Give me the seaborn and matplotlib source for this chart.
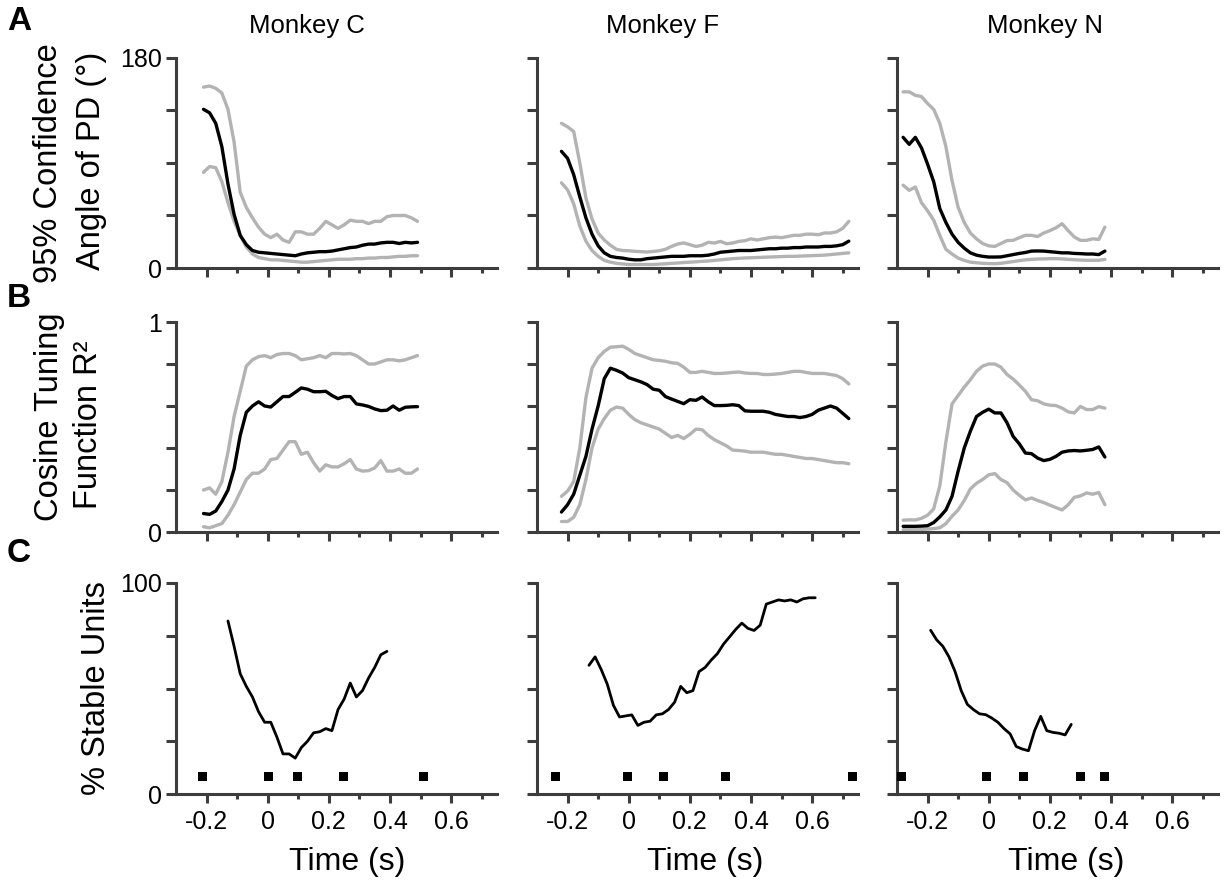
import numpy as np
import pandas as pd
import matplotlib
matplotlib.use("Agg")
import matplotlib.pyplot as plt
import seaborn as sns
from matplotlib.ticker import FixedLocator, FixedFormatter, NullFormatter

sns.set_style("ticks")
plt.rcParams['font.family'] = ['Liberation Sans', 'DejaVu Sans']
plt.rcParams['axes.unicode_minus'] = False
plt.rcParams['text.color'] = 'black'
plt.rcParams['xtick.labelcolor'] = 'black'
plt.rcParams['ytick.labelcolor'] = 'black'

# ---------------- data ----------------
monkeys = ["Monkey C", "Monkey F", "Monkey N"]

# Monkey C
t_tune_C = np.linspace(-0.21, 0.49, 36)
pd_mean_C = [136, 133, 124, 104, 72, 46, 28, 20, 15, 13.5, 13, 12.5, 12, 11.5, 11, 10.5,
             12, 13, 13.5, 14, 14, 14.5, 15.5, 16.5, 17.5, 18, 19.5, 20.5, 20.5, 21.5,
             22, 22, 21, 22, 21.5, 22]
pd_hi_C = [155, 156, 154, 150, 136, 108, 65, 52, 43, 35, 29, 26, 29, 24, 22, 31, 31, 29,
           29, 34, 40, 37, 34, 37, 41, 40, 40, 38, 40, 40, 44, 45, 45, 45, 43, 40]
pd_lo_C = [82, 87, 86, 74, 56, 40, 28, 18, 12, 9, 8, 7, 7, 6.5, 6, 5.5, 5, 5, 5.5, 6, 6.5,
           7, 7.5, 7.5, 7.5, 8, 8, 8.5, 8.5, 9, 9, 9.5, 10, 10, 10.5, 10.5]
r2_mean_C = [.088, .084, .10, .145, .20, .30, .46, .57, .60, .62, .60, .595, .62, .645,
             .645, .665, .686, .68, .668, .668, .67, .65, .635, .645, .645, .61, .605,
             .598, .586, .578, .58, .60, .58, .594, .596, .597]
r2_hi_C = [.20, .21, .18, .24, .38, .55, .67, .79, .82, .835, .84, .83, .845, .85, .85,
           .84, .82, .825, .83, .84, .83, .85, .85, .848, .85, .84, .82, .80, .80, .81,
           .82, .82, .815, .82, .83, .84]
r2_lo_C = [.025, .02, .03, .04, .08, .13, .19, .25, .28, .28, .30, .345, .35, .39, .43,
           .43, .37, .38, .33, .29, .32, .31, .31, .325, .345, .30, .29, .292, .305, .34,
           .29, .29, .30, .28, .28, .30]
t_stab_C = np.linspace(-0.13, 0.39, 27)
stable_C = [82, 70, 57, 51, 46, 39, 34, 34, 27, 19, 19, 17, 22, 25, 29, 29.5, 31, 30,
            40, 45, 52.6, 46, 49, 55, 60, 66, 67.6]
events_C = [-0.213, 0.003, 0.096, 0.249, 0.509]

# Monkey F
t_tune_F = np.linspace(-0.22, 0.72, 48)
pd_mean_F = [100, 94, 80, 61, 43, 29, 19, 13, 10, 9, 8.5, 7.5, 7, 7, 8, 8.5, 9, 9.5, 10,
             10, 10, 10.5, 10.5, 10.5, 11, 12, 13.5, 14, 14.5, 15, 15,
             15, 15.5, 16, 16.5, 16.5, 17, 17, 17.5, 17.5, 18, 18, 18, 18.5, 18.5, 19,
             20, 23]
pd_hi_F = [124, 121, 117, 90, 60, 42, 30, 24, 19.5, 16, 15, 14.8, 14.3, 14, 13.7, 14.2,
           14.8, 16, 18.5, 20.5, 21.5, 20, 18.5, 19.5, 22, 21.4, 22.8, 20.8, 21.4, 22.8,
           23.4, 25, 24, 25, 26, 26.5, 26, 27, 28, 28, 29, 29, 28.5, 30, 30, 31, 34, 40]
pd_lo_F = [73, 67, 55, 36, 23, 15, 10, 6.5, 5, 4, 3.5, 3, 3, 3, 3, 3, 3.3, 3.6, 4, 4.3,
           4.7, 5, 5.3, 5.7, 6, 6.5, 7, 7.5, 8, 8.3, 8.6, 8.8, 9, 9.2, 9.4, 9.6, 9.8, 10,
           10, 10.2, 10.4, 10.6, 10.8, 11, 11.5, 12, 12.5, 13]
r2_mean_F = [.095, .13, .18, .27, .36, .49, .60, .73, .78, .77, .757, .735, .725, .715,
             .702, .68, .675, .645, .633, .622, .611, .63, .627, .643, .62, .602, .602,
             .603, .606, .602, .577, .575, .575, .575, .57, .56, .555, .55, .55, .545,
             .55, .56, .58, .59, .60, .59, .565, .54]
r2_hi_F = [.17, .195, .24, .40, .64, .78, .83, .86, .88, .882, .885, .87, .85, .84, .83,
           .82, .817, .813, .806, .803, .785, .76, .76, .765, .76, .755, .755, .757, .76,
           .762, .757, .755, .755, .75, .75, .752, .755, .76, .765, .765, .76, .755,
           .755, .755, .75, .745, .73, .705]
r2_lo_F = [.05, .05, .07, .13, .25, .40, .49, .54, .58, .595, .59, .56, .535, .52, .51,
           .50, .49, .47, .45, .46, .445, .465, .49, .487, .46, .44, .425, .41, .39, .388,
           .385, .38, .38, .38, .375, .37, .37, .365, .36, .355, .35, .35, .345, .34,
           .335, .33, .33, .325]
t_stab_F = np.linspace(-0.13, 0.61, 38)
stable_F = [61, 65, 59, 52, 42, 36.5, 37, 37.5, 32.5, 34, 34.5, 37.5, 38, 40, 43.5, 51,
            48, 49, 58, 60, 63.5, 66.5, 71, 74.5, 78, 81, 78.5, 77.5, 80, 90, 91, 92,
            91.5, 92, 91, 92.5, 93, 93]
events_F = [-0.239, -0.003, 0.115, 0.315, 0.731]

# Monkey N
t_tune_N = np.linspace(-0.28, 0.38, 34)
pd_mean_N = [112, 106, 112, 103, 89, 74, 51, 39, 29, 22, 17, 13, 11, 10, 9.4, 9.4, 9.5,
             10.5, 11.5, 12.5, 13.3, 14.5, 14.6, 14.5, 14, 13.5, 13, 13, 12.5, 12.3, 12,
             12, 11.5, 14.5]
pd_hi_N = [151, 151, 148, 147, 141, 136, 124, 104, 75, 52, 39, 30, 25, 21, 19, 18.5, 21,
           23.5, 23.7, 26, 28, 28, 27, 30, 32, 34.5, 38, 32, 26.6, 23.7, 23.7, 25, 24.5,
           35]
pd_lo_N = [71, 66.6, 69.4, 56, 49, 41, 28, 16, 12, 8.5, 6.5, 5, 4.5, 4, 3.8, 3.7, 4, 4.8,
           5.5, 6.3, 7, 7.4, 7.7, 7.8, 8, 8, 7.8, 7.4, 7.1, 6.8, 6.6, 6.6, 6.6, 7.4]
r2_mean_N = [.027, .027, .027, .028, .03, .045, .072, .105, .17, .29, .40, .48, .55, .57,
             .585, .567, .567, .52, .455, .42, .376, .373, .352, .34, .346, .36, .38,
             .386, .388, .386, .389, .393, .405, .357]
r2_hi_N = [.056, .058, .057, .065, .08, .11, .22, .43, .61, .65, .69, .725, .765, .79,
           .80, .80, .785, .75, .728, .70, .67, .63, .625, .61, .604, .602, .59, .572,
           .567, .598, .583, .583, .597, .59]
r2_lo_N = [.011, .011, .011, .012, .014, .016, .02, .04, .075, .105, .15, .205, .232,
           .25, .272, .278, .25, .235, .20, .175, .153, .162, .15, .14, .128, .116, .105,
           .13, .165, .172, .186, .18, .188, .13]
t_stab_N = np.linspace(-0.19, 0.27, 24)
stable_N = [77.6, 73, 70, 65, 58, 49, 42.5, 40, 38, 37.6, 36, 34, 31, 28.5, 22.5, 21.3,
            20.5, 30, 36.8, 30, 29.2, 28.8, 28, 33]
events_N = [-0.285, -0.007, 0.115, 0.30, 0.38]
event_level = 8.5

# ---------------- figure ----------------
W, H = 1225, 882
fig = plt.figure(figsize=(W / 100, H / 100), dpi=100)

col_left = [176, 537, 897]
col_width = 321
row_span = [(58, 268), (322, 532), (583, 794)]

BLACK = "#000000"
GRAY = "#b3b3b3"
AXC = "#3d3d3d"
TICK_FS = 18


def make_ax(r, c):
    top, bot = row_span[r]
    return fig.add_axes([col_left[c] / W, 1 - bot / H, col_width / W, (bot - top) / H])


def style_ax(ax, ymax, yticks, ylabels, show_y, show_x):
    sns.despine(ax=ax)
    for s in ("left", "bottom"):
        ax.spines[s].set_linewidth(2.2)
        ax.spines[s].set_color(AXC)
    ax.set_xlim(-0.3, 0.75)
    ax.set_ylim(0, ymax)
    ax.xaxis.set_major_locator(FixedLocator([-0.2, 0, 0.2, 0.4, 0.6]))
    ax.xaxis.set_minor_locator(FixedLocator([-0.1, 0.1, 0.3, 0.5, 0.7]))
    if show_x:
        ax.xaxis.set_major_formatter(FixedFormatter(["-0.2", "0", "0.2", "0.4", "0.6"]))
    else:
        ax.xaxis.set_major_formatter(NullFormatter())
    ax.xaxis.set_minor_formatter(NullFormatter())
    ax.yaxis.set_major_locator(FixedLocator(yticks))
    if show_y:
        ax.yaxis.set_major_formatter(FixedFormatter(ylabels))
    else:
        ax.yaxis.set_major_formatter(NullFormatter())
    ax.tick_params(axis="x", which="major", direction="out", length=6.5, width=2.2,
                   color=AXC, labelsize=TICK_FS, pad=5, labelcolor="black")
    ax.tick_params(axis="x", which="minor", direction="out", length=3.6, width=2.2,
                   color=AXC)
    ax.tick_params(axis="y", which="major", direction="out", length=7, width=2.2,
                   color=AXC, labelsize=TICK_FS, pad=3, labelcolor="black")
    ax.set_xlabel("")
    ax.set_ylabel("")
    ax.grid(False)


tune_sets = [
    (t_tune_C, pd_mean_C, pd_hi_C, pd_lo_C, r2_mean_C, r2_hi_C, r2_lo_C),
    (t_tune_F, pd_mean_F, pd_hi_F, pd_lo_F, r2_mean_F, r2_hi_F, r2_lo_F),
    (t_tune_N, pd_mean_N, pd_hi_N, pd_lo_N, r2_mean_N, r2_hi_N, r2_lo_N),
]
stab_sets = [(t_stab_C, stable_C, events_C), (t_stab_F, stable_F, events_F),
             (t_stab_N, stable_N, events_N)]

for c in range(3):
    t, pdm, pdh, pdl, r2m, r2h, r2l = tune_sets[c]

    # row A: confidence angle of preferred direction
    ax = make_ax(0, c)
    for vals, col in ((pdh, GRAY), (pdl, GRAY), (pdm, BLACK)):
        sns.lineplot(x=t, y=vals, color=col, linewidth=2.4, ax=ax, sort=False)
    style_ax(ax, 180, [0, 45, 90, 135, 180], ["0", "", "", "", "180"], c == 0, False)

    # row B: cosine tuning R^2
    ax = make_ax(1, c)
    for vals, col in ((r2h, GRAY), (r2l, GRAY), (r2m, BLACK)):
        sns.lineplot(x=t, y=vals, color=col, linewidth=2.4, ax=ax, sort=False)
    style_ax(ax, 1, [0, 0.2, 0.4, 0.6, 0.8, 1.0], ["0", "", "", "", "", "1"], c == 0, False)

    # row C: percent of stable units and event markers
    ts, st, ev = stab_sets[c]
    ax = make_ax(2, c)
    sns.lineplot(x=ts, y=st, color=BLACK, linewidth=2.0, ax=ax, sort=False)
    ev_df = pd.DataFrame({"t": ev, "y": [event_level] * len(ev)})
    sns.scatterplot(data=ev_df, x="t", y="y", marker="s", s=42, color=BLACK,
                    edgecolor="none", ax=ax, zorder=5)
    style_ax(ax, 100, [0, 25, 50, 75, 100], ["0", "", "", "", "100"], c == 0, True)

# column titles
for cx, name in zip([307, 663, 1045], monkeys):
    fig.text(cx / W, 1 - 33 / H, name, ha="center", va="baseline", fontsize=18.5)

# x-axis labels
for cx in [347, 705, 1066]:
    fig.text(cx / W, 1 - 870 / H, "Time (s)", ha="center", va="baseline", fontsize=23)


def ylab(xb, yc, s):
    fig.text(xb / W, 1 - yc / H, s, rotation=90, rotation_mode="anchor",
             ha="center", va="baseline", fontsize=23.5)


ylab(57, 163, "95% Confidence")
ylab(100, 161, "Angle of PD (°)")
ylab(58, 417, "Cosine Tuning")
ylab(97, 425, "Function R²")
ylab(105, 688, "% Stable Units")

# panel letters
for yb, letter in [(30, "A"), (307, "B"), (562, "C")]:
    fig.text(7 / W, 1 - yb / H, letter, ha="left", va="baseline", fontsize=24,
             fontweight="bold")

fig.savefig("out.png", dpi=100)
